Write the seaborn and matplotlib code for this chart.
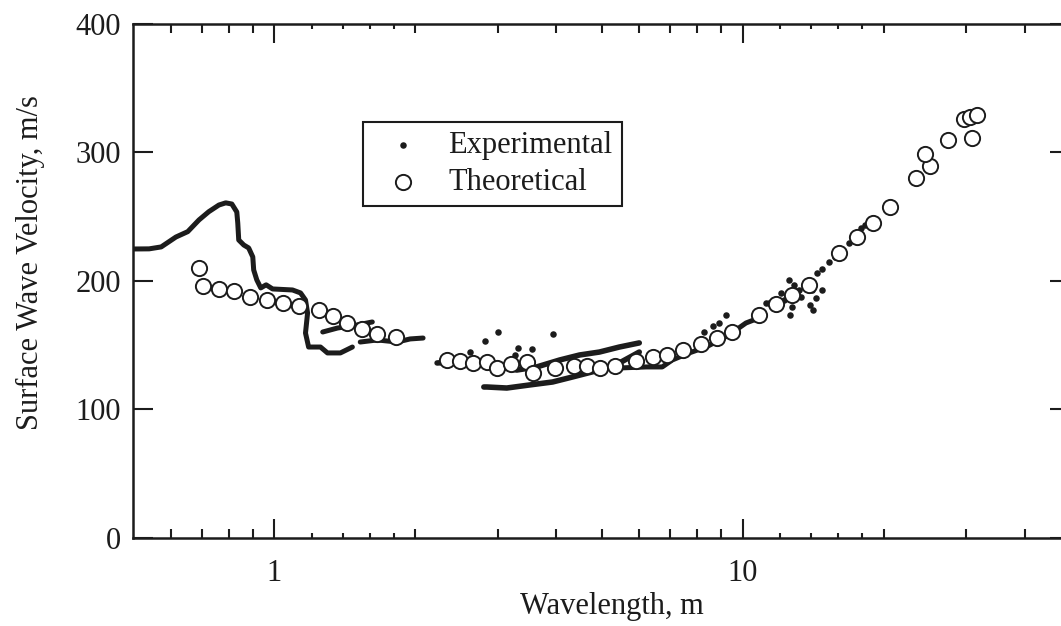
import matplotlib
matplotlib.use("Agg")
import matplotlib.pyplot as plt
import seaborn as sns
from matplotlib.ticker import FixedLocator, NullFormatter, NullLocator

sns.set_theme(style="ticks")
plt.rcParams['font.family'] = ['Liberation Serif', 'DejaVu Serif']

INK = "#1c1c1c"

# ---------------- data (wavelength in m, velocity in m/s) ----------------
theo_x = [0.690, 0.703, 0.761, 0.819, 0.886, 0.962, 1.041, 1.131, 1.248, 1.336,
          1.431, 1.540, 1.658, 1.820,
          2.336, 2.489, 2.653, 2.842, 2.985, 3.197, 3.457, 3.561, 3.966, 4.352,
          4.661, 4.968, 5.349, 5.927, 6.44, 6.899, 7.461, 8.147, 8.81, 9.48,
          10.83, 11.77, 12.72, 13.83, 16.09, 17.58, 19.01, 20.67, 23.48, 25.14,
          24.53, 27.46, 30.89, 29.71, 30.59, 31.65]
theo_y = [210, 196, 194, 192, 187.5, 185, 183, 180.5, 177.4, 172.8,
          167.3, 162.6, 158.8, 156.4,
          138.5, 137.7, 136.2, 137, 132.3, 135.4, 137, 128.4, 132.3, 133.9,
          133.9, 132.3, 133.9, 137.7, 140.9, 142.4, 146.3, 151, 155.6, 160.3,
          173.5, 182.1, 189.1, 196.9, 221.8, 234.2, 245.1, 257.6, 280.2, 289.5,
          298.8, 309.9, 311.3, 326.1, 327.6, 329.2]

# experimental traces (dense dots appear as continuous bands)
expA_x = [0.50, 0.540, 0.573, 0.616, 0.653, 0.690, 0.724, 0.761, 0.787, 0.811,
          0.831, 0.835, 0.839, 0.860, 0.881, 0.899, 0.903, 0.917, 0.935, 0.960,
          0.991, 1.093, 1.137, 1.165, 1.177, 1.165, 1.183, 1.254, 1.298, 1.383, 1.467]
expA_y = [224.9, 225.0, 226.5, 234.2, 238.4, 247.5, 253.9, 259.1, 260.8, 259.9,
          253.7, 245.1, 231.9, 228.0, 225.7, 218.7, 208.6, 200.8, 194.6, 197.0,
          193.8, 193.0, 190.7, 185.2, 175.1, 159.5, 148.6, 148.6, 144.0, 144.0, 148.6]
expA2_x = [1.268, 1.364, 1.503, 1.618]
expA2_y = [160.3, 163.4, 165.8, 168.1]
expA3_x = [1.525, 1.658, 1.828, 1.949, 2.077]
expA3_y = [152.5, 154.1, 152.5, 154.9, 155.6]
expB1_x = [2.225, 2.430, 2.680, 2.955, 3.292, 3.631, 4.064, 4.482, 4.943, 5.452, 6.013]
expB1_y = [136.2, 137.0, 136.2, 133.9, 130.7, 133.1, 138.5, 142.4, 144.7, 148.6, 151.8]
expB2_x = [2.80, 2.842, 3.134, 3.509, 3.927, 4.331, 4.943, 5.452, 6.013]
expB2_y = [117.5, 117.5, 116.7, 119.1, 121.4, 125.3, 130.7, 136.2, 144.7]
expB3_x = [4.943, 5.452, 6.223, 6.732, 7.07, 7.684, 8.352, 9.346, 10.16, 10.83]
expB3_y = [132.3, 132.3, 133.1, 133.1, 138.5, 144.0, 148.6, 158.0, 167.3, 171.2]
# scattered experimental points
exp_dot_x = [2.615, 2.815, 2.999, 3.26, 3.308, 3.543, 3.927, 8.270, 8.643, 8.899,
             9.211, 11.20, 11.36, 11.81, 12.05, 12.24, 12.53, 12.60, 12.72, 12.84,
             13.16, 13.35, 13.95, 14.04, 14.12, 14.31, 14.74, 14.38, 14.74, 15.26,
             15.71, 16.18, 16.83, 17.42, 17.93, 18.29]
exp_dot_y = [144.7, 153.3, 160.3, 142.4, 147.9, 147.1, 158.8, 160.3, 165.0, 167.3,
             173.5, 182.9, 182.9, 179.0, 190.7, 185.2, 200.8, 173.5, 179.8, 196.9,
             193.0, 187.5, 181.3, 193.0, 177.4, 186.8, 193.0, 206.2, 209.3, 214.8,
             218.7, 222.6, 229.6, 235.0, 241.2, 243.6]

x_major = [1, 10]
x_major_labels = ["1", "10"]
x_mid = [0.6, 0.7, 0.8, 0.9, 2, 3, 4, 5, 6, 7, 8, 9, 20, 30, 40]
x_small = [1.2, 1.4, 1.6, 1.8, 12, 14, 16, 18]
y_ticks = [0, 100, 200, 300, 400]

# ---------------- figure ----------------
fig = plt.figure(figsize=(10.61, 6.26), dpi=100)
fig.patch.set_facecolor("white")
ax = fig.add_axes([0.1258, 0.1406, 0.8827, 0.8211])
ax.set_facecolor("white")
ax.set_xscale("log")

for xs, ys, lw in [(expA_x, expA_y, 3.6), (expA2_x, expA2_y, 3.6), (expA3_x, expA3_y, 3.6),
                   (expB1_x, expB1_y, 4.0), (expB2_x, expB2_y, 4.0), (expB3_x, expB3_y, 3.6)]:
    sns.lineplot(x=xs, y=ys, sort=False, estimator=None, color=INK, lw=lw,
                 ax=ax, legend=False, zorder=2,
                 solid_capstyle="round", solid_joinstyle="round")

sns.scatterplot(x=exp_dot_x, y=exp_dot_y, s=22, color=INK, edgecolor=INK,
                linewidth=0, ax=ax, label="Experimental", zorder=3)
sns.scatterplot(x=theo_x, y=theo_y, s=120, facecolor="white", edgecolor=INK,
                linewidth=1.4, ax=ax, label="Theoretical", zorder=4)

ax.set_xlim(0.5, 50)
ax.set_ylim(0, 400)

for sp in ax.spines.values():
    sp.set_visible(True)
    sp.set_linewidth(1.8)
    sp.set_color(INK)

ax.set_xticks(x_major, labels=x_major_labels)
ax.xaxis.set_minor_locator(FixedLocator(x_mid))
ax.xaxis.set_minor_formatter(NullFormatter())
ax.set_yticks(y_ticks)
ax.yaxis.set_minor_locator(NullLocator())

ax.tick_params(axis="both", which="both", direction="in", top=True, right=True,
               colors=INK, labelsize=22, width=1.5)
ax.tick_params(axis="x", which="major", length=13.7, pad=15)
ax.tick_params(axis="x", which="minor", length=6.5)
ax.tick_params(axis="y", which="major", length=14.4, pad=9)

for loc in ("bottom", "top"):
    sec = ax.secondary_xaxis(loc)
    sec.set_xticks(x_small)
    sec.xaxis.set_minor_locator(NullLocator())
    sec.tick_params(direction="in", length=3.6, width=1.5, colors=INK,
                    labelbottom=False, labeltop=False)
    for sp in sec.spines.values():
        sp.set_visible(False)

ax.set_xlabel("Wavelength, m", fontsize=22, color=INK)
ax.set_ylabel("Surface Wave Velocity, m/s", fontsize=22, color=INK)
ax.xaxis.set_label_coords(0.511, -0.105)
ax.yaxis.set_label_coords(-0.095, 0.535)

leg = ax.legend(loc="upper left", bbox_to_anchor=(363 / 1061, 1 - 122 / 626),
                bbox_transform=fig.transFigure, borderaxespad=0, fontsize=22,
                frameon=True, fancybox=False, edgecolor=INK, framealpha=1,
                borderpad=0.3, handlelength=2.0, handletextpad=0.5,
                labelspacing=0.25, markerscale=1.0)
leg.get_frame().set_linewidth(1.5)
for t in leg.get_texts():
    t.set_color(INK)

fig.savefig("out.png", dpi=100, facecolor="white")
